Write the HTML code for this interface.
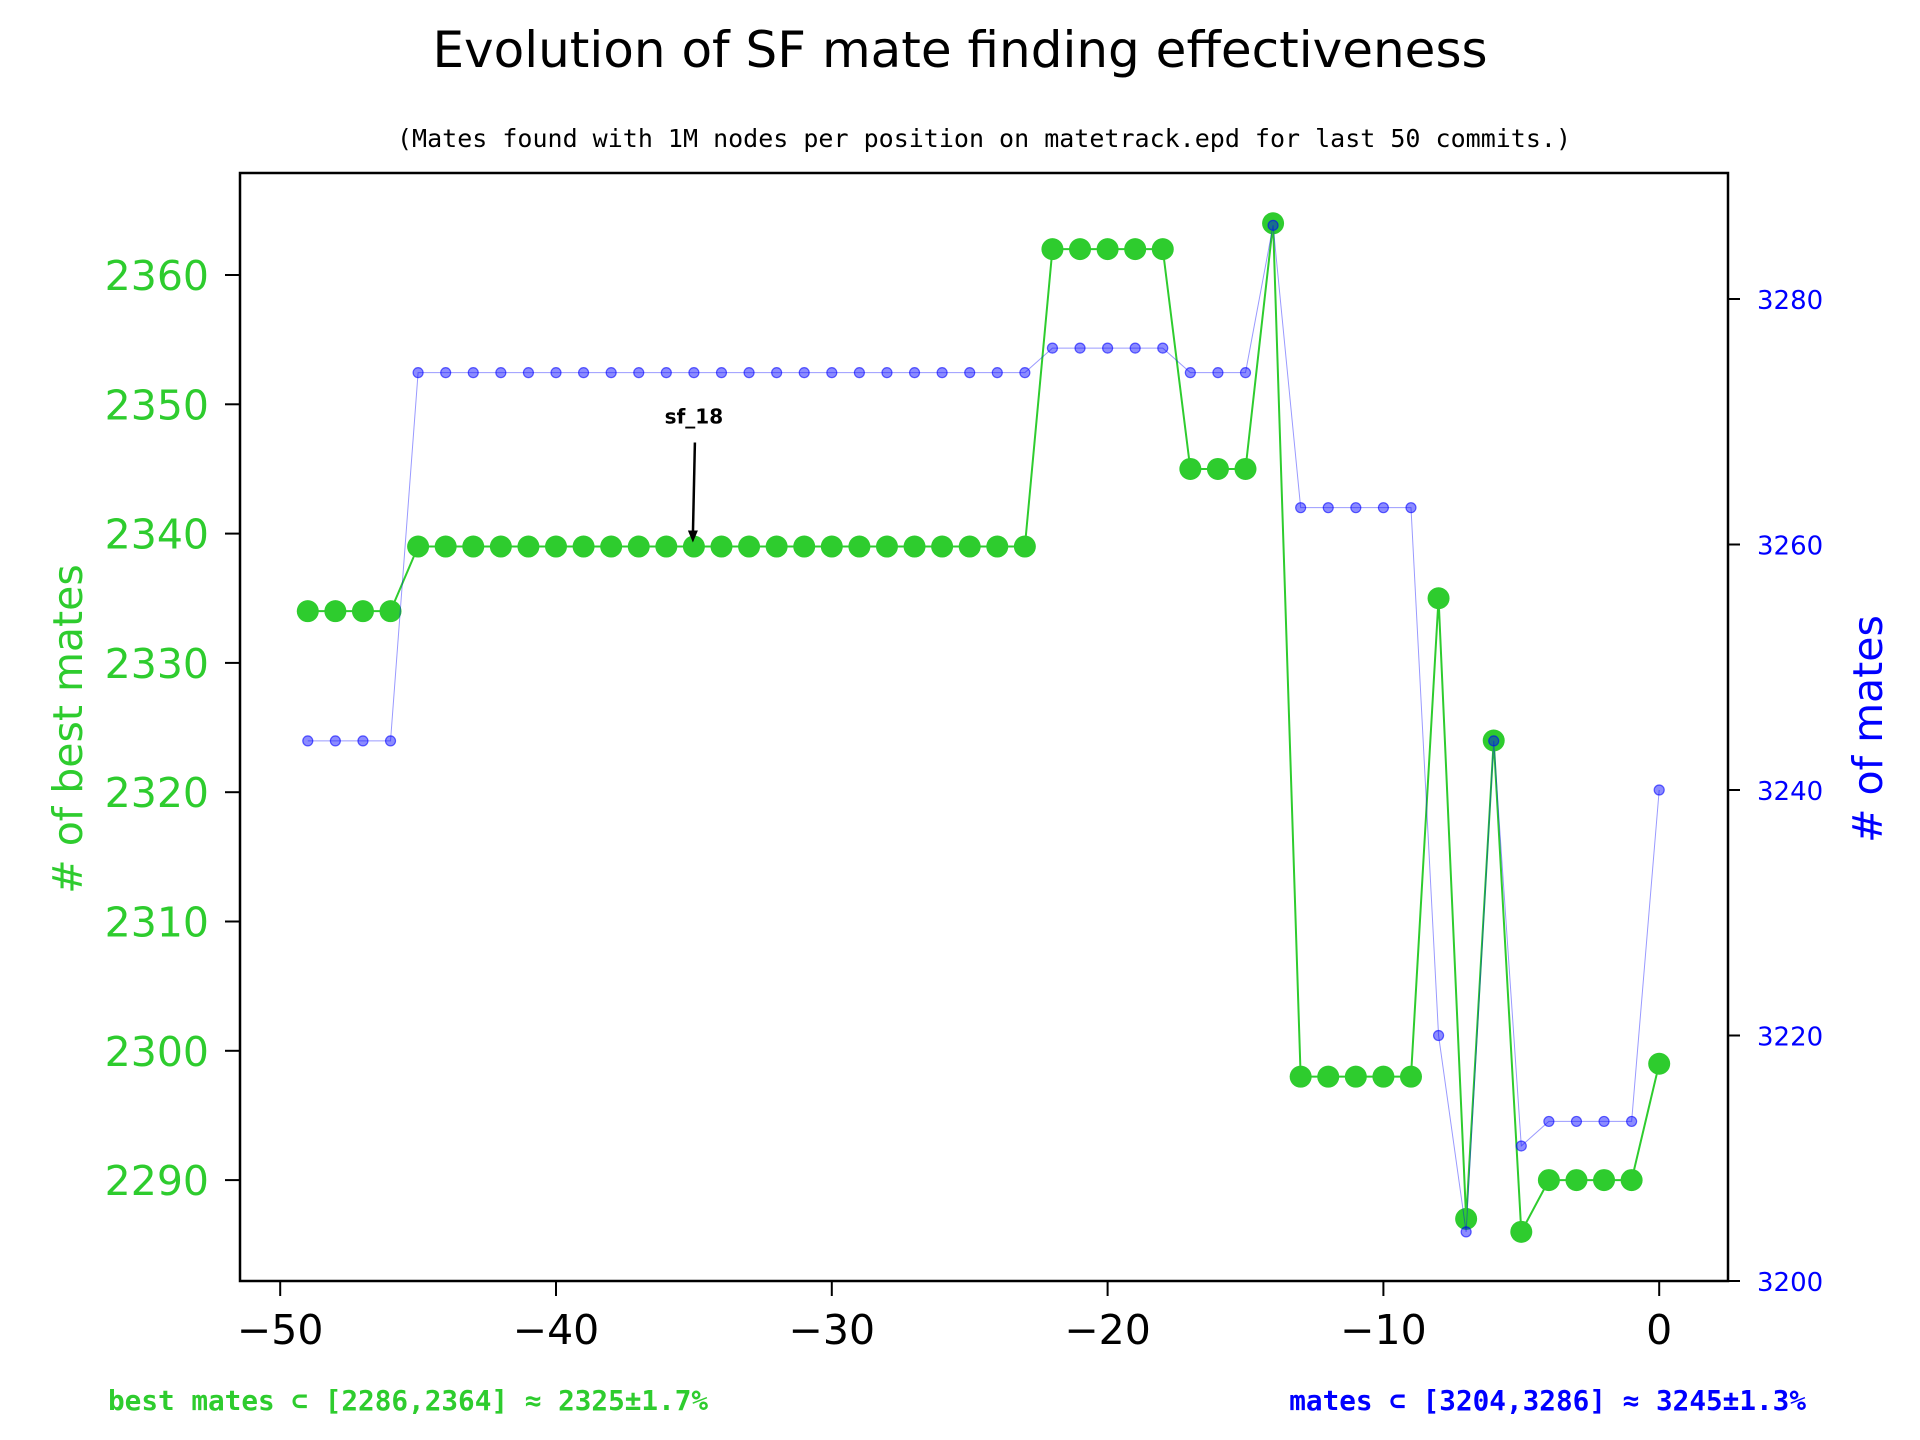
<!DOCTYPE html>
<html><head><meta charset="utf-8"><style>
html,body{margin:0;padding:0;background:#fff;}
svg{display:block;font-family:"DejaVu Sans","Liberation Sans",sans-serif;}
</style></head><body>
<svg id="chart" width="1920" height="1440" viewBox="0 0 1920 1440" xmlns="http://www.w3.org/2000/svg">
<text x="960" y="67" text-anchor="middle" font-size="50">Evolution of SF mate finding effectiveness</text>
<text x="984" y="147" text-anchor="middle" font-size="25" font-family="DejaVu Sans Mono, Liberation Mono, monospace">(Mates found with 1M nodes per position on matetrack.epd for last 50 commits.)</text>
<g id="plot"></g>
<rect x="240" y="173" width="1488" height="1108" fill="none" stroke="#000" stroke-width="2.5"/>
<text transform="translate(82,729) rotate(-90)" text-anchor="middle" font-size="41" fill="#2ecc2e"># of best mates</text>
<text transform="translate(1882,729) rotate(-90)" text-anchor="middle" font-size="41" fill="#0000ff"># of mates</text>
<text x="108" y="1410" font-size="27.7" font-weight="bold" fill="#2ecc2e" font-family="DejaVu Sans Mono, Liberation Mono, monospace">best mates ⊂ [2286,2364] ≈ 2325±1.7%</text>
<text x="1806" y="1410" text-anchor="end" font-size="27.7" font-weight="bold" fill="#0000ff" font-family="DejaVu Sans Mono, Liberation Mono, monospace">mates ⊂ [3204,3286] ≈ 3245±1.3%</text>
</svg>
<script>
const xValues = [-49,-48,-47,-46,-45,-44,-43,-42,-41,-40,-39,-38,-37,-36,-35,-34,-33,-32,-31,-30,-29,-28,-27,-26,-25,-24,-23,-22,-21,-20,-19,-18,-17,-16,-15,-14,-13,-12,-11,-10,-9,-8,-7,-6,-5,-4,-3,-2,-1,0];
const bestMates = [2334,2334,2334,2334,2339,2339,2339,2339,2339,2339,2339,2339,2339,2339,2339,2339,2339,2339,2339,2339,2339,2339,2339,2339,2339,2339,2339,2362,2362,2362,2362,2362,2345,2345,2345,2364,2298,2298,2298,2298,2298,2335,2287,2324,2286,2290,2290,2290,2290,2299];
const mates = [3244,3244,3244,3244,3274,3274,3274,3274,3274,3274,3274,3274,3274,3274,3274,3274,3274,3274,3274,3274,3274,3274,3274,3274,3274,3274,3274,3276,3276,3276,3276,3276,3274,3274,3274,3286,3263,3263,3263,3263,3263,3220,3204,3244,3211,3213,3213,3213,3213,3240];
const xTicks = [-50,-40,-30,-20,-10,0];
const leftTicks = [2290,2300,2310,2320,2330,2340,2350,2360];
const rightTicks = [3200,3220,3240,3260,3280];
const annotation = {label:"sf_18", x:-35, y:2339};

const NS="http://www.w3.org/2000/svg";
const g=document.getElementById('plot');
const X=v=>1659.2+(v)*27.58;
const YL=v=>275+(2360-v)*12.93;
const YR=v=>1281-(v-3200)*12.275;
function mk(t,a,p){const e=document.createElementNS(NS,t);for(const k in a)e.setAttribute(k,a[k]);(p||g).appendChild(e);return e;}

xTicks.forEach(t=>{
  const l=mk('line',{x1:X(t),x2:X(t),y1:1281,y2:1296,stroke:'#000','stroke-width':2});
  
  
  const tx=mk('text',{x:X(t),y:1344,'text-anchor':'middle','font-size':41});
  tx.textContent=(t<0?'\u2212'+(-t):t);
  
  
});
leftTicks.forEach(t=>{
  const l=mk('line',{x1:225,x2:240,y1:YL(t),y2:YL(t),stroke:'#000','stroke-width':2});
  
  
  const tx=mk('text',{x:209,y:YL(t)+15,'text-anchor':'end','font-size':41,fill:'#2ecc2e'});
  tx.textContent=t;
  
  
});
rightTicks.forEach(t=>{
  const l=mk('line',{x1:1728,x2:1740,y1:YR(t),y2:YR(t),stroke:'#000','stroke-width':2});
  
  
  const tx=mk('text',{x:1757,y:YR(t)+10,'font-size':26,fill:'#0000ff'});
  tx.textContent=t;
  
  
});

const gp=mk('polyline',{points:xValues.map((x,i)=>X(x)+','+YL(bestMates[i])).join(' '),fill:'none',stroke:'#2ecc2e','stroke-width':2});


xValues.forEach((x,i)=>{
  const c=mk('circle',{cx:X(x),cy:YL(bestMates[i]),r:11,fill:'#2ecc2e'});
  
  
});
const bp=mk('polyline',{points:xValues.map((x,i)=>X(x)+','+YR(mates[i])).join(' '),fill:'none',stroke:'#0000ff','stroke-width':1,'stroke-opacity':0.4});


xValues.forEach((x,i)=>{
  const c=mk('circle',{cx:X(x),cy:YR(mates[i]),r:5,fill:'#0000ff','fill-opacity':0.45,stroke:'#0000ff','stroke-opacity':0.6,'stroke-width':1.2});
  
  
});

const ax=X(annotation.x), ay=YL(annotation.y);
const at=mk('text',{x:ax,y:ay-123,'text-anchor':'middle','font-size':20,'font-weight':'bold'});
at.textContent=annotation.label;


const al=mk('line',{x1:ax+1,y1:ay-104,x2:ax-1,y2:ay-12,stroke:'#000','stroke-width':2.5});


const ah=mk('polygon',{points:`${ax-1},${ay-4} ${ax-6},${ay-16} ${ax+4},${ay-16}`,fill:'#000'});


</script>
</body></html>
